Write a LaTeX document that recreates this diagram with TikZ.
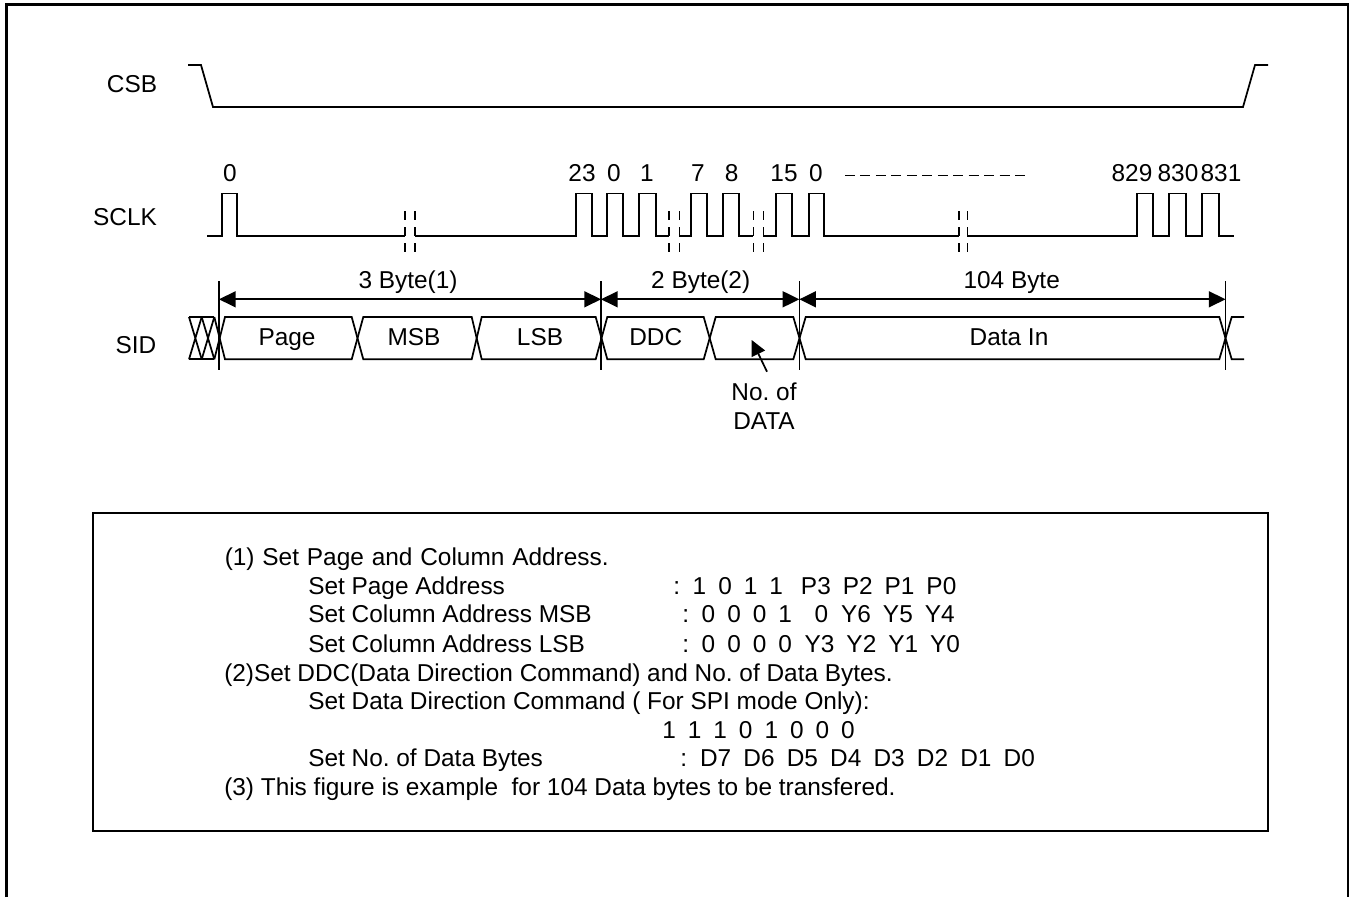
\documentclass[tikz,border=0pt]{standalone}
\usepackage{fontspec}
\setmainfont{Liberation Sans}
\usetikzlibrary{arrows.meta}
\frenchspacing
\newcommand{\gp}{\hspace{9pt}}
\newcommand{\dg}{\hspace{9.15pt}}
\tikzset{
  frameline/.style={line width=2.2pt,line join=miter},
  sig/.style={line width=1.3pt,line join=miter},
  boxline/.style={line width=1.3pt},
  brk/.style={line width=1.05pt,dash pattern=on 6.75pt off 5.25pt},
  tick/.style={line width=1.15pt},
  dim/.style={line width=1.25pt,{Triangle[length=12.5pt,width=12pt]}-{Triangle[length=12.5pt,width=12pt]}},
  lbl/.style={inner sep=0pt,anchor=base,font=\fontsize{18.3}{22}\selectfont},
  note/.style={inner sep=0pt,anchor=base west,font=\fontsize{18.3}{22}\selectfont},
}
\begin{document}
\begin{tikzpicture}[x=0.75pt,y=-0.75pt]
\useasboundingbox (0,0) rectangle (1349,897);
% outer frame (open at the bottom)
\draw[frameline] (6.3,897) -- (6.3,4.7) -- (1348,4.7) -- (1348,897);
% signal names
\node[lbl] (csbname) at (132,92.7) {CSB};
\node[lbl] (sclkname) at (125,225.7) {SCLK};
\node[lbl] (sidname) at (136,353.5) {SID};
% CSB
\draw[sig] (188,65) -- (201,65) -- (213,107) -- (1243,107) -- (1255,65) -- (1268,65);
% SCLK
\draw[sig] (207,235.7) -- (222,235.7) -- (222,193.5) -- (237,193.5) -- (237,235.7) -- (405,235.7);
\draw[sig] (415,235.7) -- (575.7,235.7) -- (575.7,193.5) -- (591.7,193.5) -- (591.7,235.7)
  -- (607,235.7) -- (607,193.5) -- (622.7,193.5) -- (622.7,235.7)
  -- (639.3,235.7) -- (639.3,193.5) -- (655.7,193.5) -- (655.7,235.7) -- (669,235.7);
\draw[sig] (679.3,235.7) -- (691,235.7) -- (691,193.5) -- (706.7,193.5) -- (706.7,235.7)
  -- (723.3,235.7) -- (723.3,193.5) -- (739.3,193.5) -- (739.3,235.7) -- (753.3,235.7);
\draw[sig] (763.3,235.7) -- (775.7,235.7) -- (775.7,193.5) -- (791.7,193.5) -- (791.7,235.7)
  -- (809.3,235.7) -- (809.3,193.5) -- (824,193.5) -- (824,235.7) -- (959,235.7);
\draw[sig] (967.3,235.7) -- (1136.7,235.7) -- (1136.7,193.5) -- (1153.3,193.5) -- (1153.3,235.7)
  -- (1169,235.7) -- (1169,193.5) -- (1185.7,193.5) -- (1185.7,235.7)
  -- (1201.7,235.7) -- (1201.7,193.5) -- (1219.3,193.5) -- (1219.3,235.7) -- (1234,235.7);
% SCLK break marks
\foreach \bx in {405,415,669,679.3,753.3,763.3,959,967.3}
  \draw[brk] (\bx,211) -- (\bx,253);
% clock numbers
\node[lbl] (n0) at (230,181.7) {0};
\node[lbl] (n23) at (582,181.7) {23};
\node[lbl] (n0b) at (614,181.7) {0};
\node[lbl] (n1) at (647,181.7) {1};
\node[lbl] (n7) at (698,181.7) {7};
\node[lbl] (n8) at (731.7,181.7) {8};
\node[lbl] (n15) at (784,181.7) {15};
\node[lbl] (n0c) at (816,181.7) {0};
\node[lbl] (n829) at (1132,181.7) {829};
\node[lbl] (n830) at (1178,181.7) {830};
\node[lbl] (n831) at (1221,181.7) {831};
\draw[line width=1.3pt,dash pattern=on 7.5pt off 4.1pt] (845,175.5) -- (1025,175.5);
% SID ticks
\coordinate (t1) at (219,299.3);
\coordinate (t2) at (601,299.3);
\coordinate (t3) at (799.3,299.3);
\coordinate (t4) at (1225.5,299.3);
\foreach \tx in {219,601,799.3,1225.5}
  \draw[tick] (\tx,281) -- (\tx,370);
% dimension arrows
\draw[dim] (t1) -- (t2);
\draw[dim] (t2) -- (t3);
\draw[dim] (t3) -- (t4);
\node[lbl] (b3) at (408,288) {3 Byte(1)};
\node[lbl] (b2) at (700.7,288) {2 Byte(2)};
\node[lbl] (b104) at (1011.7,288) {104 Byte};
% SID bus
\draw[sig] (189,317) -- (214.3,317) (189,359.3) -- (214.3,359.3);
\draw[sig] (189,317) -- (201.7,359.3) (201.7,317) -- (189,359.3);
\draw[sig] (201.7,317) -- (214.3,359.3) (214.3,317) -- (201.7,359.3);
\draw[sig] (214.3,317) -- (225,359.3) -- (351.7,359.3) -- (363.3,317) -- (471.7,317) -- (481.7,359.3)
  -- (595.7,359.3) -- (607.3,317) -- (703.7,317) -- (715.7,359.3) -- (793.3,359.3) -- (805.7,317)
  -- (1219.3,317) -- (1231.7,359.3) -- (1244,359.3);
\draw[sig] (214.3,359.3) -- (225,317) -- (351.7,317) -- (363.3,359.3) -- (471.7,359.3) -- (481.7,317)
  -- (595.7,317) -- (607.3,359.3) -- (703.7,359.3) -- (715.7,317) -- (793.3,317) -- (805.7,359.3)
  -- (1219.3,359.3) -- (1231.7,317) -- (1244,317);
\node[lbl] (page) at (287,345.7) {Page};
\node[lbl] (msb) at (414,345.7) {MSB};
\node[lbl] (lsb) at (540,345.7) {LSB};
\node[lbl] (ddc) at (655.7,345.7) {DDC};
\node[lbl] (datain) at (1009,345.7) {Data In};
% No. of DATA
\node[lbl,align=center] (nodata) at (764,429) {No. of\\[-0.5pt]DATA};
\coordinate (nofrom) at (767,371.7);
\coordinate (noto) at (751.7,340);
\draw[line width=1.3pt,-{Triangle[length=11.5pt,width=11pt]}] (nofrom) -- (noto);
% note box
\draw[boxline] (93,513) rectangle (1267.7,831);
\node[note] (l1) at (224.5,565) {\spaceskip=5.9pt (1) Set Page and Column Address.};
\node[note] (l2) at (308,594) {Set Page Address};
\node[note] (l2b) at (673,594) {:\hspace{9.5pt}1\gp 0\gp 1\gp 1\hspace{13.5pt}P3\gp P2\gp P1\gp P0};
\node[note] (l3) at (308,622.7) {Set Column Address MSB};
\node[note] (l3b) at (682,622.7) {:\hspace{9.5pt}0\gp 0\gp 0\gp 1\hspace{17pt}0\hspace{9.7pt}Y6\gp Y5\gp Y4};
\node[note] (l4) at (308,652.3) {Set Column Address LSB};
\node[note] (l4b) at (682,652.3) {:\hspace{9.5pt}0\gp 0\gp 0\gp 0\hspace{9.5pt}Y3\gp Y2\gp Y1\gp Y0};
\node[note] (l5) at (224,681) {(2)Set DDC(Data Direction Command) and No. of Data Bytes.};
\node[note] (l6) at (308,709) {Set Data Direction Command ( For SPI mode Only):};
\node[note] (l7) at (662,738.3) {1\gp 1\gp 1\gp 0\gp 1\gp 0\gp 0\gp 0};
\node[note] (l8) at (308,766.7) {Set No. of Data Bytes};
\node[note] (l8b) at (680,766.7) {:\hspace{9.75pt}D7\dg D6\dg D5\dg D4\dg D3\dg D2\dg D1\dg D0};
\node[note] (l9) at (224,795.7) {(3) This figure is example\ \ for 104 Data bytes to be transfered.};
\end{tikzpicture}
\end{document}
